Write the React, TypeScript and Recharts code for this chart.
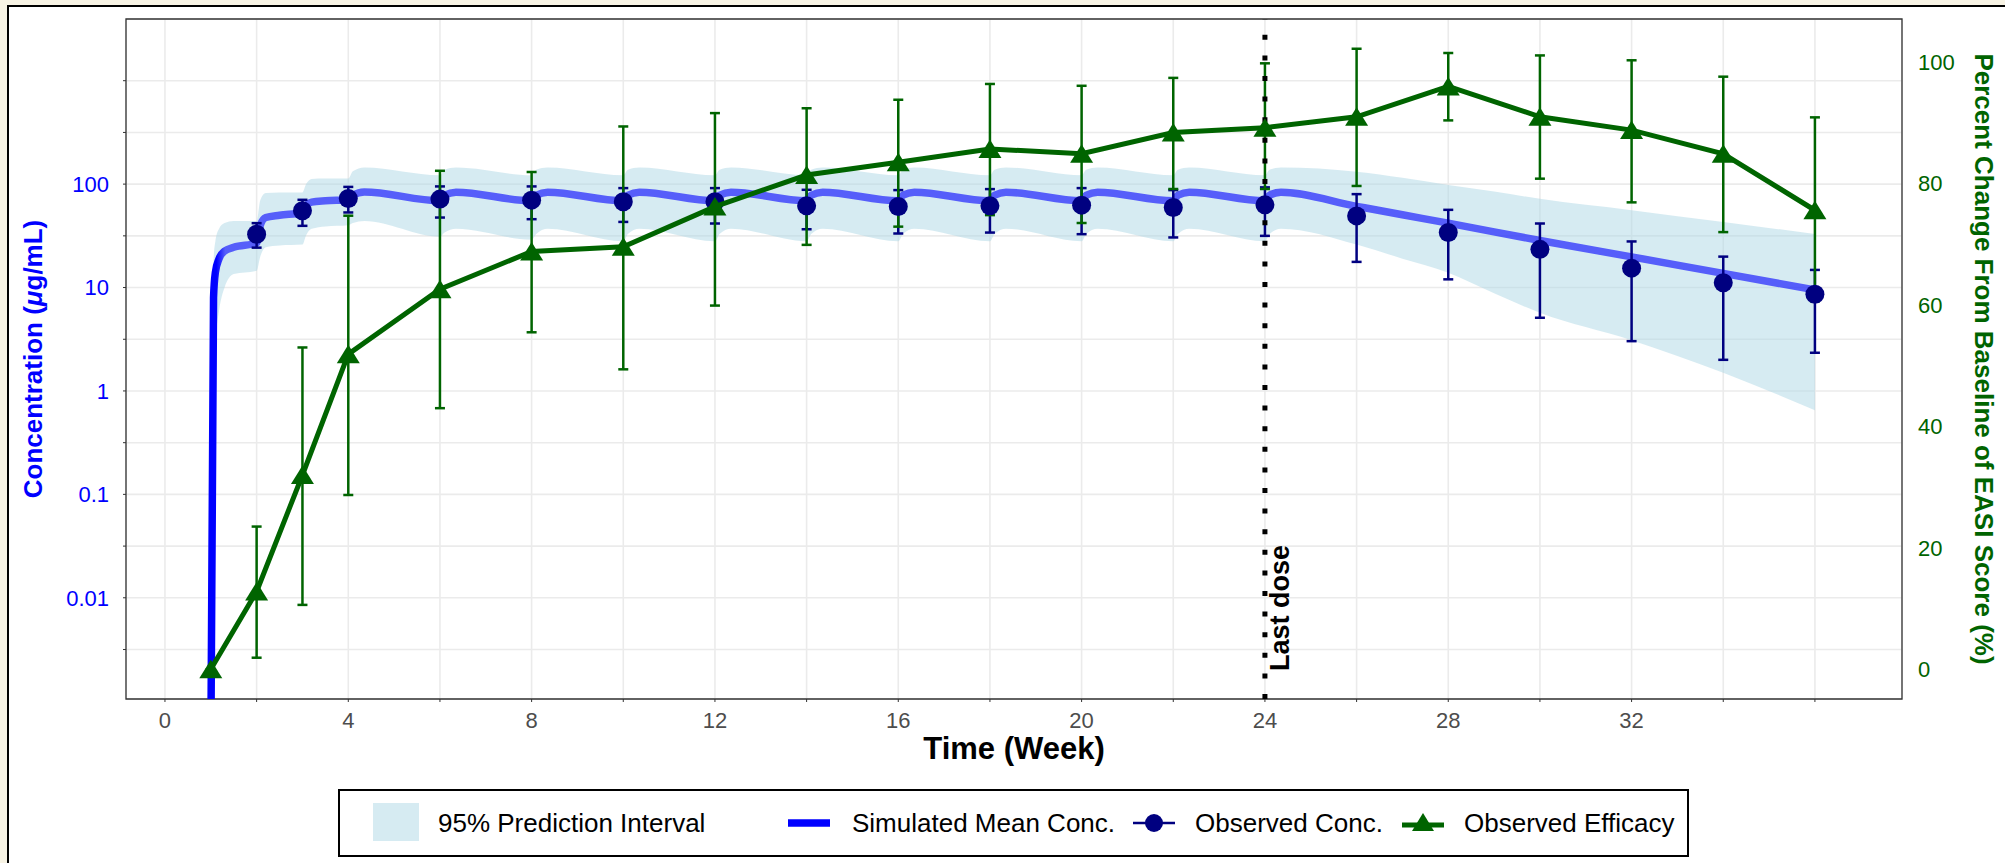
import React from "react";
import {
  ComposedChart,
  Line,
  Area,
  Scatter,
  ErrorBar,
  XAxis,
  YAxis,
  CartesianGrid,
  ReferenceLine,
  ReferenceArea,
  Legend,
} from "recharts";

const FONT = "'Liberation Sans', Arial, Helvetica, sans-serif";

// simulated mean concentration + 95% PI (ug/mL)
const simWeeks = [
  1.0, 1.06, 1.1, 1.18, 1.3, 1.5, 2.0, 2.08, 2.2, 2.5, 3.0, 3.08, 3.2, 3.5, 4.0,
  4.1, 4.35, 6.0, 6.1, 6.35, 8.0, 8.1, 8.35, 10.0, 10.1, 10.35, 12.0, 12.1, 12.35,
  14.0, 14.1, 14.35, 16.0, 16.1, 16.35, 18.0, 18.1, 18.35, 20.0, 20.1, 20.35,
  22.0, 22.1, 22.35, 24.0, 24.1, 24.35, 26, 27, 28, 29, 30, 32, 34, 36,
];
const simMean = [
  0.0003, 8, 14, 19, 22.5, 24.5, 27, 40, 47.5, 50, 53, 62, 67, 69, 70.5,
  78, 84, 69, 78, 83.5, 69, 78, 83.5, 69, 78, 83.5, 69, 78, 83.5,
  69, 78, 83.5, 69, 78, 83.5, 69, 78, 83.5, 69, 78, 83.5,
  69, 78, 83.5, 69, 78, 83.5, 61, 50.5, 42, 34.5, 28.5, 19.8, 13.7, 9.5,
];
const simLow = [
  0.0001, 1.5, 3, 6, 10, 13.5, 14.5, 20, 24.5, 25.5, 26, 32, 37, 39, 40,
  42, 44, 31, 34, 37, 29, 33, 37, 28, 33, 37, 28, 33, 37,
  28, 33, 37, 28, 33, 37, 28, 33, 37, 28, 33, 37,
  28, 33, 37, 28, 33, 37, 26, 19, 13.9, 8.8, 5.7, 3.1, 1.5, 0.65,
];
const simHigh = [
  0.0006, 18, 28, 37, 42, 44, 44, 70, 82, 83, 83, 100, 112, 113, 113,
  133, 145, 122, 138, 145, 122, 138, 145, 122, 138, 145, 122, 138, 145,
  122, 138, 145, 122, 138, 145, 122, 138, 145, 122, 138, 145,
  122, 138, 145, 122, 138, 145, 132, 115, 98, 85, 72, 56, 43, 33,
];

// observed concentration (mean, lower, upper)
const concWeeks = [2, 3, 4, 6, 8, 10, 12, 14, 16, 18, 20, 22, 24, 26, 28, 30, 32, 34, 36];
const concMean = [32.8, 55.2, 72.6, 71.6, 70, 67.4, 67.4, 61.6, 60.8, 61.6, 62.6, 59.4, 63, 49.3, 34, 23.4, 15.4, 11.1, 8.6];
const concLow = [24.3, 39.5, 53.2, 47.5, 45.8, 43.1, 41.6, 36.6, 33.3, 34, 32.8, 30.5, 31.6, 17.7, 12, 5.1, 3.03, 2.0, 2.34];
const concHigh = [41.9, 70.5, 94, 95, 95, 91.5, 91.5, 88.1, 87.5, 89.5, 91.5, 87.5, 93, 80, 56.4, 41.6, 27.9, 19.9, 14.8];

// observed efficacy, % change from baseline EASI (mean, lower, upper)
const effWeeks = [1, 2, 3, 4, 6, 8, 10, 12, 14, 16, 18, 20, 22, 24, 26, 28, 30, 32, 34, 36];
const effMean = [0, 12.8, 32, 51.9, 62.6, 68.8, 69.6, 76.2, 81.4, 83.5, 85.7, 84.9, 88.4, 89.2, 91, 96, 91, 88.8, 84.9, 75.6];
const effLow = [0, 1.9, 10.6, 28.7, 43, 55.5, 49.4, 59.9, 69.9, 72.9, 74.8, 73.5, 79.1, 79.1, 79.6, 90.4, 80.8, 76.9, 72, 60.6];
const effHigh = [0, 23.5, 53, 74.7, 82.1, 81.9, 89.4, 91.6, 92.4, 93.8, 96.4, 96.1, 97.4, 99.8, 102.2, 101.5, 101.1, 100.3, 97.6, 90.9];

const weekTicks = [0, 2, 4, 6, 8, 10, 12, 14, 16, 18, 20, 22, 24, 26, 28, 30, 32, 34, 36];
const weekLabels = [0, 4, 8, 12, 16, 20, 24, 28, 32];
const concTicks = [0.00316, 0.01, 0.0316, 0.1, 0.316, 1, 3.16, 10, 31.6, 100, 316, 1000];
const concLabels = [0.01, 0.1, 1, 10, 100];
const effTicks = [0, 20, 40, 60, 80, 100];
const LAST_DOSE = 24;

const X_DOMAIN: [number, number] = [-0.85, 37.9];
const CONC_DOMAIN: [number, number] = [0.00105, 3950];
const EFF_DOMAIN: [number, number] = [-4.9, 107.1];

const simData = simWeeks.map((w, i) => ({
  week: w,
  mean: simMean[i],
  band: [simLow[i], simHigh[i]],
}));
const concData = concWeeks.map((w, i) => ({
  week: w,
  value: concMean[i],
  err: [concMean[i] - concLow[i], concHigh[i] - concMean[i]],
}));
const effData = effWeeks.map((w, i) => ({
  week: w,
  value: effMean[i],
  err: [effMean[i] - effLow[i], effHigh[i] - effMean[i]],
}));

const Circle = (p: any) => <circle cx={p.cx} cy={p.cy} r={9.5} fill="#000080" />;
const Triangle = (p: any) => (
  <polygon
    points={`${p.cx},${p.cy - 9.5} ${p.cx - 11.5},${p.cy + 9} ${p.cx + 11.5},${p.cy + 9}`}
    fill="#006400"
  />
);

const XTitle = ({ viewBox }: any) => (
  <text x={viewBox.x + viewBox.width / 2} y={viewBox.y + 60} textAnchor="middle"
    fontFamily={FONT} fontWeight="bold" fontSize={31} fill="#000">
    Time (Week)
  </text>
);

const LeftTitle = ({ viewBox }: any) => {
  const x = 42;
  const y = viewBox.y + viewBox.height / 2;
  return (
    <text x={x} y={y} transform={`rotate(-90 ${x} ${y})`} textAnchor="middle"
      fontFamily={FONT} fontWeight="bold" fontSize={26} fill="#0000ff">
      Concentration (<tspan fontStyle="italic">μ</tspan>g/mL)
    </text>
  );
};

const RightTitle = ({ viewBox }: any) => {
  const x = 1975;
  const y = viewBox.y + viewBox.height / 2;
  return (
    <text x={x} y={y} transform={`rotate(90 ${x} ${y})`} textAnchor="middle"
      fontFamily={FONT} fontWeight="bold" fontSize={26} fill="#006400">
      Percent Change From Baseline of EASI Score (%)
    </text>
  );
};

const DoseLabel = ({ viewBox }: any) => {
  const x = viewBox.x + 24;
  const y = viewBox.y + viewBox.height - 28;
  return (
    <text x={x} y={y} transform={`rotate(-90 ${x} ${y})`} textAnchor="start"
      fontFamily={FONT} fontWeight="bold" fontSize={27} fill="#000">
      Last dose
    </text>
  );
};

const legendText: React.CSSProperties = {
  position: "absolute",
  top: 0,
  lineHeight: "64px",
  fontSize: 26,
  fontFamily: FONT,
  color: "#000",
  whiteSpace: "nowrap",
};

const ChartLegend = () => (
  <div style={{ position: "relative", width: 1351, height: 68, border: "2px solid #000", boxSizing: "border-box", background: "#fff" }}>
    <div style={{ position: "absolute", left: 33, top: 12, width: 46, height: 38, background: "#d6ebf2" }} />
    <span style={{ ...legendText, left: 98 }}>95% Prediction Interval</span>
    <svg style={{ position: "absolute", left: 448, top: 0 }} width={42} height={64}>
      <line x1={0} x2={42} y1={32} y2={32} stroke="#0000ff" strokeWidth={7.5} />
    </svg>
    <span style={{ ...legendText, left: 512 }}>Simulated Mean Conc.</span>
    <svg style={{ position: "absolute", left: 793, top: 0 }} width={42} height={64}>
      <line x1={0} x2={42} y1={32} y2={32} stroke="#000080" strokeWidth={2.5} />
      <circle cx={21} cy={32} r={9} fill="#000080" />
    </svg>
    <span style={{ ...legendText, left: 855 }}>Observed Conc.</span>
    <svg style={{ position: "absolute", left: 1062, top: 0 }} width={42} height={64}>
      <line x1={0} x2={42} y1={34} y2={34} stroke="#006400" strokeWidth={5} />
      <polygon points="21,22 10,40 32,40" fill="#006400" />
    </svg>
    <span style={{ ...legendText, left: 1124 }}>Observed Efficacy</span>
  </div>
);

const App: React.FC = () => {
  return (
    <div style={{ position: "relative", width: 2005, height: 863, background: "#f7f3e4", overflow: "hidden" }}>
      <style>{"body{margin:0;}"}</style>
      <div style={{ position: "absolute", left: 7, top: 5, right: 0, bottom: 0, borderLeft: "2.5px solid #000", borderTop: "2.5px solid #000", background: "#fff" }} />
      <div style={{ position: "absolute", left: 0, top: 0 }}>
        <ComposedChart width={2005} height={863} data={simData} margin={{ top: 19, right: 0, bottom: 0, left: 0 }}>
          <defs>
            <linearGradient id="simGrad" x1="0" y1="0" x2="1" y2="0">
              <stop offset="0%" stopColor="#0000ff" stopOpacity={1} />
              <stop offset="0.35%" stopColor="#0000ff" stopOpacity={1} />
              <stop offset="0.9%" stopColor="#0000ff" stopOpacity={0.6} />
              <stop offset="100%" stopColor="#0000ff" stopOpacity={0.6} />
            </linearGradient>
          </defs>
          <CartesianGrid yAxisId="conc" stroke="#ebebeb" strokeWidth={1.6} />
          <XAxis
            dataKey="week"
            type="number"
            domain={X_DOMAIN}
            allowDataOverflow
            ticks={weekTicks}
            interval={0}
            tickFormatter={(v) => (weekLabels.includes(v) ? String(v) : "")}
            tick={{ fill: "#4d4d4d", fontSize: 22, fontFamily: FONT }}
            tickLine={{ stroke: "#333" }}
            tickSize={3}
            tickMargin={10}
            axisLine={false}
            height={164}
            label={<XTitle />}
          />
          <YAxis
            yAxisId="conc"
            scale="log"
            domain={CONC_DOMAIN}
            allowDataOverflow
            ticks={concTicks}
            interval={0}
            tickFormatter={(v) => (concLabels.includes(v) ? String(v) : "")}
            tick={{ fill: "#0000ff", fontSize: 22, fontFamily: FONT }}
            tickLine={{ stroke: "#333" }}
            tickSize={3}
            tickMargin={14}
            axisLine={false}
            width={126}
            label={<LeftTitle />}
          />
          <YAxis
            yAxisId="concR"
            orientation="right"
            scale="log"
            domain={CONC_DOMAIN}
            allowDataOverflow
            ticks={concTicks}
            interval={0}
            tick={false}
            tickLine={{ stroke: "#333" }}
            tickSize={3}
            axisLine={false}
            width={1}
          />
          <YAxis
            yAxisId="eff"
            orientation="right"
            domain={EFF_DOMAIN}
            allowDataOverflow
            ticks={effTicks}
            interval={0}
            tick={{ fill: "#006400", fontSize: 22, fontFamily: FONT }}
            tickLine={false}
            tickSize={0}
            tickMargin={15}
            axisLine={false}
            width={102}
            label={<RightTitle />}
          />
          <Area
            yAxisId="conc"
            dataKey="band"
            type="monotone"
            fill="#add8e6"
            fillOpacity={0.5}
            stroke="none"
            activeDot={false}
            isAnimationActive={false}
          />
          <Line
            yAxisId="conc"
            dataKey="mean"
            type="monotone"
            stroke="url(#simGrad)"
            strokeWidth={7.5}
            dot={false}
            activeDot={false}
            isAnimationActive={false}
          />
          <Scatter yAxisId="conc" data={concData} dataKey="value" fill="#000080" shape={<Circle />} isAnimationActive={false}>
            <ErrorBar dataKey="err" direction="y" width={5} stroke="#000080" strokeWidth={2.5} />
          </Scatter>
          <Scatter
            yAxisId="eff"
            data={effData}
            dataKey="value"
            fill="#006400"
            line={{ stroke: "#006400", strokeWidth: 5 }}
            lineType="joint"
            shape={<Triangle />}
            isAnimationActive={false}
          >
            <ErrorBar dataKey="err" direction="y" width={5} stroke="#006400" strokeWidth={2.5} />
          </Scatter>
          <ReferenceLine
            yAxisId="conc"
            x={LAST_DOSE}
            stroke="#000"
            strokeWidth={5}
            strokeDasharray="5 15.6"
            label={<DoseLabel />}
          />
          <ReferenceArea
            yAxisId="conc"
            x1={X_DOMAIN[0]}
            x2={X_DOMAIN[1]}
            y1={CONC_DOMAIN[0]}
            y2={CONC_DOMAIN[1]}
            fill="none"
            stroke="#333"
            strokeWidth={1.3}
            ifOverflow="visible"
          />
          <Legend
            verticalAlign="middle"
            align="center"
            layout="horizontal"
            content={<ChartLegend />}
            wrapperStyle={{ left: 338, top: 789, width: 1351, height: 68 }}
          />
        </ComposedChart>
      </div>
    </div>
  );
};

export default App;
